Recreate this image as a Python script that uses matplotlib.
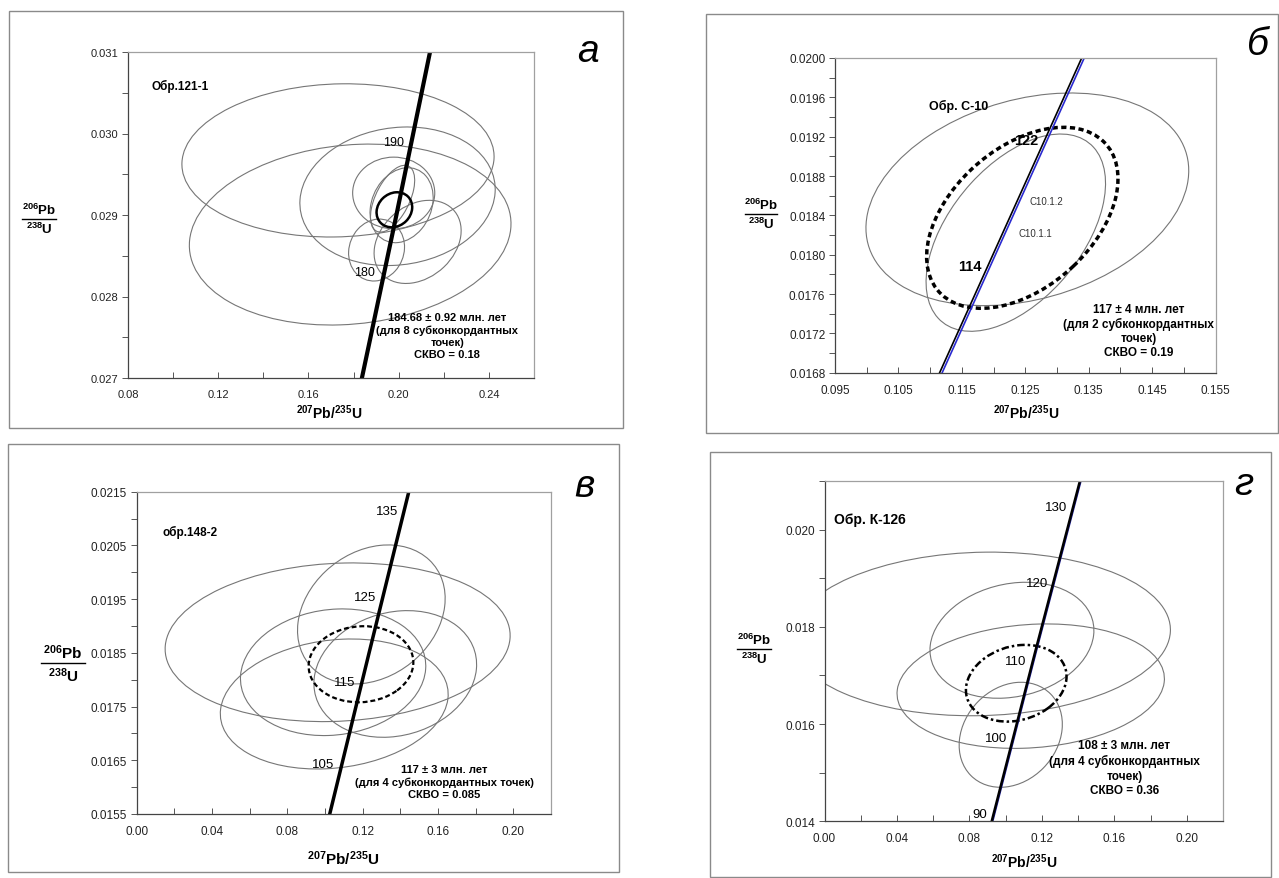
import numpy as np
import matplotlib
matplotlib.use('Agg')
import matplotlib.pyplot as plt
from matplotlib.patches import Ellipse, Rectangle
from matplotlib.lines import Line2D
from matplotlib.transforms import Affine2D
from matplotlib.ticker import MultipleLocator, FormatStrFormatter

plt.rcParams['font.family'] = ['Liberation Sans', 'DejaVu Sans']
plt.rcParams['mathtext.fontset'] = 'custom'
plt.rcParams['mathtext.rm'] = 'Liberation Sans'
plt.rcParams['mathtext.bf'] = 'Liberation Sans:bold'
plt.rcParams['mathtext.it'] = 'Liberation Sans:italic'

NARROW = ['Liberation Sans Narrow', 'Liberation Sans', 'DejaVu Sans']

# ---- panel а: Обр.121-1 (error ellipses: centre, half-widths, correlation)
a_cx = [0.1731, 0.1785, 0.1995, 0.1978, 0.1973, 0.2013, 0.1902, 0.2084]
a_cy = [0.02967, 0.02876, 0.02923, 0.02927, 0.02920, 0.02912, 0.02857, 0.02867]
a_sx = [0.0692, 0.0713, 0.0433, 0.0182, 0.0098, 0.0140, 0.0124, 0.0193]
a_sy = [0.00094, 0.00111, 0.00085, 0.00044, 0.00041, 0.00046, 0.00038, 0.00051]
a_rho = [0.05, 0.12, 0.10, 0.0, 0.55, 0.2, 0.1, 0.27]
a_mean = [0.1981, 0.029064, 0.0079, 0.000215, 0.15]
a_conc_x = [0.1837, 0.1990, 0.2139]
a_conc_y = [0.0270, 0.0290, 0.0310]
a_ages = ['190', '180']
a_age_x = [0.1979, 0.1849]
a_age_y = [0.02989, 0.02830]

# ---- panel б: Обр. С-10
b_cx = [0.12533, 0.12351]
b_cy = [0.018563, 0.018224]
b_sx = [0.02545, 0.01415]
b_sy = [0.001081, 0.001003]
b_rho = [0.27, 0.5]
b_mean = [0.12454, 0.018375, 0.01509, 0.00092, 0.43]
b_conc_x = [0.1115, 0.1227, 0.1339]
b_conc2_x = [0.1119, 0.1231, 0.1343]
b_conc_y = [0.0168, 0.0184, 0.0200]
b_ages = ['122', '114']
b_age_x = [0.12517, 0.11621]
b_age_y = [0.019165, 0.017882]
b_spots = ['C10.1.2', 'C10.1.1']
b_spot_x = [0.12833, 0.1266]
b_spot_y = [0.018543, 0.018218]

# ---- panel в: обр.148-2
v_cx = [0.1067, 0.1246, 0.1043, 0.1049, 0.1373]
v_cy = [0.018697, 0.019215, 0.018139, 0.017548, 0.018107]
v_sx = [0.0916, 0.0392, 0.0492, 0.0605, 0.0432]
v_sy = [0.001477, 0.001294, 0.001179, 0.00121, 0.001179]
v_rho = [0.085, 0.23, 0.1, 0.15, 0.15]
v_mean = [0.1191, 0.018288, 0.0278, 0.000708, 0.05]
v_conc_x = [0.1025, 0.1234, 0.1445]
v_conc_y = [0.0155, 0.0185, 0.0215]
v_ages = ['135', '125', '115', '105']
v_age_x = [0.1330, 0.12145, 0.11033, 0.0992]
v_age_y = [0.021148, 0.019547, 0.017964, 0.01643]

# ---- panel г: Обр. К-126
g_cx = [0.08637, 0.11385, 0.10348, 0.10282]
g_cy = [0.017854, 0.01678, 0.017724, 0.01578]
g_sx = [0.1046, 0.0738, 0.04525, 0.02848]
g_sy = [0.001683, 0.00128, 0.001193, 0.00108]
g_rho = [0.05, 0.12, 0.17, 0.2]
g_mean = [0.10585, 0.01684, 0.02778, 0.000789, 0.18]
g_conc_x = [0.0923, 0.1164, 0.1410]
g_conc2_x = [0.0927, 0.1168, 0.1414]
g_conc_y = [0.0140, 0.0175, 0.0210]
g_ages = ['130', '120', '110', '100', '90']
g_age_x = [0.1279, 0.1171, 0.10568, 0.09465, 0.0856]
g_age_y = [0.02046, 0.018897, 0.01729, 0.01571, 0.01415]

W, H = 1279, 879
fig = plt.figure(figsize=(W / 100, H / 100), dpi=100)
fig.patch.set_facecolor('white')


def add_ax(left, top, right, bottom):
    # axes placed by pixel box of the picture
    return fig.add_axes([left / W, 1 - bottom / H, (right - left) / W, (bottom - top) / H])


def frame(left, top, right, bottom):
    fig.add_artist(Rectangle((left / W, 1 - bottom / H), (right - left) / W, (bottom - top) / H,
                             transform=fig.transFigure, fill=False, ec='#8a8a8a', lw=1.0))


def err_ellipse(ax, cx, cy, sx, sy, rho, **kw):
    # 2-sigma box of size sx, sy with correlation rho (same way as confidence_ellipse)
    ell = Ellipse((0, 0), width=2 * np.sqrt(1 + rho), height=2 * np.sqrt(1 - rho),
                  facecolor='none', **kw)
    tr = Affine2D().rotate_deg(45).scale(sx, sy).translate(cx, cy)
    ell.set_transform(tr + ax.transData)
    ax.add_patch(ell)


def style_axes(ax, xlim, ylim, xmaj, xmin, ymaj, ymin, xfmt, yfmt, fs, family=None,
               xoff=0.0, yoff=0.0):
    ax.set_xlim(*xlim)
    ax.set_ylim(*ylim)
    ax.xaxis.set_major_locator(MultipleLocator(xmaj, offset=xoff))
    ax.xaxis.set_minor_locator(MultipleLocator(xmin))
    ax.yaxis.set_major_locator(MultipleLocator(ymaj, offset=yoff))
    ax.yaxis.set_minor_locator(MultipleLocator(ymin))
    ax.xaxis.set_major_formatter(FormatStrFormatter(xfmt))
    ax.yaxis.set_major_formatter(FormatStrFormatter(yfmt))
    ax.tick_params(axis='x', which='both', direction='in', length=4, width=0.7, color='#555555',
                   labelsize=fs, pad=8)
    ax.tick_params(axis='y', which='both', direction='out', length=4, width=0.7, color='#555555',
                   labelsize=fs, pad=3)
    for lab in ax.get_xticklabels() + ax.get_yticklabels():
        if family:
            lab.set_family(family)
        lab.set_color('#222222')
    for s in ['left', 'bottom']:
        ax.spines[s].set_color('#444444')
        ax.spines[s].set_linewidth(0.9)
    for s in ['top', 'right']:
        ax.spines[s].set_color('#a0a0a0')
        ax.spines[s].set_linewidth(0.9)


def frac_label(xc, yline, half, fs):
    # 206Pb over 238U written as a fraction
    fig.text(xc / W, 1 - (yline - 2) / H, r'$\mathbf{^{206}Pb}$', ha='center', va='bottom', fontsize=fs)
    fig.text(xc / W, 1 - (yline + 2) / H, r'$\mathbf{^{238}U}$', ha='center', va='top', fontsize=fs)
    fig.add_artist(Line2D([(xc - half) / W, (xc + half) / W], [1 - yline / H, 1 - yline / H],
                          transform=fig.transFigure, color='black', lw=1.0))


def xlab(xc, yc, fs):
    fig.text(xc / W, 1 - yc / H, r'$\mathbf{^{207}Pb/^{235}U}$', ha='center', va='center', fontsize=fs)


def letter(xc, yc, s):
    fig.text(xc / W, 1 - yc / H, s, ha='center', va='center', fontsize=28, style='italic')


gray = dict(ec='#767676', lw=0.8)

# outer boxes of the four panels
frame(9, 12, 623, 429)
frame(706, 15, 1278, 434)
frame(8, 445, 619, 873)
frame(710, 453, 1271, 878)

# ================= а =================
ax = add_ax(128, 53, 534, 379)
style_axes(ax, (0.08, 0.26), (0.027, 0.031), 0.04, 0.02, 0.001, 0.0005, '%.2f', '%.3f', 8)
for i in range(len(a_cx)):
    err_ellipse(ax, a_cx[i], a_cy[i], a_sx[i], a_sy[i], a_rho[i], **gray)
err_ellipse(ax, *a_mean, ec='black', lw=1.8)
ax.plot(a_conc_x, a_conc_y, color='black', lw=3)
for s, x, y in zip(a_ages, a_age_x, a_age_y):
    ax.text(x, y, s, ha='center', va='center', fontsize=9)
ax.text(0.0902, 0.030595, 'Обр.121-1', ha='left', va='center', fontsize=8.5, fontweight='bold')
ax.text(0.2216, 0.027524, '184.68 ± 0.92 млн. лет\n(для 8 субконкордантных\nточек)\nСКВО = 0.18',
        ha='center', va='center', fontsize=8, fontweight='bold', linespacing=1.25)
frac_label(39, 220, 17, 9.5)
xlab(329, 413, 10)
letter(588, 52, 'а')

# ================= б =================
ax = add_ax(835, 59, 1215.5, 373.7)
style_axes(ax, (0.095, 0.155), (0.0168, 0.0200), 0.01, 0.005, 0.0004, 0.0002, '%.3f', '%.4f', 8.5,
           family=NARROW, xoff=0.005)
for i in range(len(b_cx)):
    err_ellipse(ax, b_cx[i], b_cy[i], b_sx[i], b_sy[i], b_rho[i], **gray)
err_ellipse(ax, *b_mean, ec='black', lw=2.5, ls=(0, (1.5, 1.0)))
ax.plot(b_conc_x, b_conc_y, color='black', lw=1.2)
ax.plot(b_conc2_x, b_conc_y, color='#2a2ad0', lw=1.2)
for s, x, y in zip(b_ages, b_age_x, b_age_y):
    ax.text(x, y, s, ha='center', va='center', fontsize=10.5, fontweight='bold', family=NARROW)
for s, x, y in zip(b_spots, b_spot_x, b_spot_y):
    ax.text(x, y, s, ha='center', va='center', fontsize=7, family=NARROW, color='#333333')
ax.text(0.10984, 0.019522, 'Обр. С-10', ha='left', va='center', fontsize=9, fontweight='bold',
        family=NARROW)
ax.text(0.14283, 0.017227, '117 ± 4 млн. лет\n(для 2 субконкордантных\nточек)\nСКВО = 0.19',
        ha='center', va='center', fontsize=8.5, fontweight='bold', linespacing=1.2, family=NARROW)
frac_label(761, 215, 16, 9.5)
xlab(1026, 413, 10)
letter(1258, 45, 'б')

# ================= в =================
ax = add_ax(136.7, 492.7, 551, 815)
style_axes(ax, (0.0, 0.22), (0.0155, 0.0215), 0.04, 0.02, 0.001, 0.0005, '%.2f', '%.4f', 8.5,
           yoff=0.0005)
for i in range(len(v_cx)):
    err_ellipse(ax, v_cx[i], v_cy[i], v_sx[i], v_sy[i], v_rho[i], **gray)
err_ellipse(ax, *v_mean, ec='black', lw=1.6, ls=(0, (2.2, 1.3)))
ax.plot(v_conc_x, v_conc_y, color='black', lw=2.5)
for s, x, y in zip(v_ages, v_age_x, v_age_y):
    ax.text(x, y, s, ha='center', va='center', fontsize=9.5)
ax.text(0.0139, 0.020757, 'обр.148-2', ha='left', va='center', fontsize=8.5, fontweight='bold')
ax.text(0.1633, 0.016105, '117 ± 3 млн. лет\n(для 4 субконкордантных точек)\nСКВО = 0.085',
        ha='center', va='center', fontsize=8, fontweight='bold', linespacing=1.3)
frac_label(63, 664, 22, 11)
xlab(343, 859, 11)
letter(584, 487, 'в')

# ================= г =================
ax = add_ax(824.5, 482, 1223, 822.3)
style_axes(ax, (0.0, 0.22), (0.014, 0.021), 0.04, 0.02, 0.002, 0.001, '%.2f', '%.3f', 8.5)
for i in range(len(g_cx)):
    err_ellipse(ax, g_cx[i], g_cy[i], g_sx[i], g_sy[i], g_rho[i], **gray)
err_ellipse(ax, *g_mean, ec='black', lw=1.8, ls=(0, (3.0, 1.2, 1.0, 1.2)))
ax.plot(g_conc2_x, g_conc_y, color='#1a1a90', lw=1.6)
ax.plot(g_conc_x, g_conc_y, color='black', lw=1.8)
for s, x, y in zip(g_ages, g_age_x, g_age_y):
    ax.text(x, y, s, ha='center', va='center', fontsize=9.5)
ax.text(0.00524, 0.02022, 'Обр. К-126', ha='left', va='center', fontsize=10, fontweight='bold')
ax.text(0.16556, 0.015103, '108 ± 3 млн. лет\n(для 4 субконкордантных\nточек)\nСКВО = 0.36',
        ha='center', va='center', fontsize=8.5, fontweight='bold', linespacing=1.3)
frac_label(754, 650, 17, 9.5)
xlab(1024, 862, 10)
letter(1244, 485, 'г')

fig.savefig('out.png', dpi=100, facecolor='white')
